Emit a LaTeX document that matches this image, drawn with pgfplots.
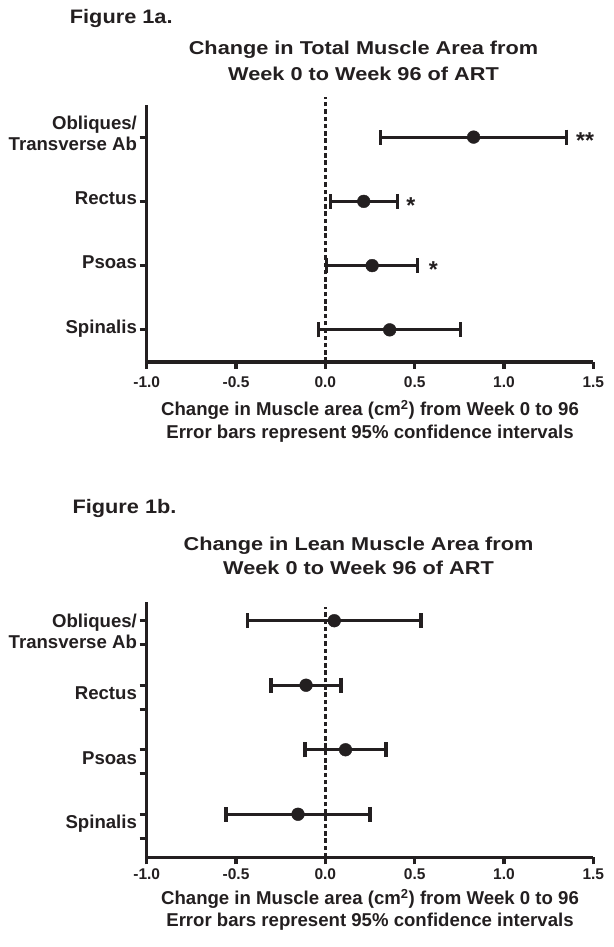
\documentclass[border=0pt]{standalone}
\usepackage{pgfplots}
\usepackage{pgfplotstable}
\pgfplotsset{compat=1.18}
\usepackage{fontspec}
\setmainfont{Liberation Sans}
\usepackage{graphicx}
\definecolor{ink}{RGB}{35,31,32}

\pgfplotstableread{
y m e
4 0.830 0.520
3 0.215 0.187
2 0.262 0.256
1 0.360 0.398
}\toptable
\pgfplotstableread{
y m e
4 0.050 0.485
3 -0.108 0.196
2 0.113 0.227
1 -0.153 0.403
}\bottable

\newcommand{\labfont}{\fontsize{18.6bp}{21.4bp}\selectfont\bfseries}
\newcommand{\titfont}{\fontsize{18.6bp}{22bp}\selectfont\bfseries}
\newcommand{\figfont}{\fontsize{19.5bp}{22bp}\selectfont\bfseries}
\newcommand{\starfont}{\fontsize{23bp}{23bp}\selectfont\bfseries}

\pgfplotsset{
 forestaxis/.style={
  scale only axis, width=446.6bp,
  xmin=-1, xmax=1.5,
  axis lines=left,
  axis line style={line width=3.2bp, -, ink},
  every tick/.style={line width=3.2bp, ink},
  major tick length=7bp,
  tick align=outside,
  xtick={-1,-0.5,0,0.5,1,1.5},
  xticklabels={-1.0,-0.5,0.0,0.5,1.0,1.5},
  xticklabel style={font=\fontsize{15.5bp}{18bp}\selectfont\bfseries, anchor=base, text=ink},
  ytick={1,2,3,4},
  yticklabel style={font=\labfont, anchor=base east, inner sep=0pt, text=ink, xshift=-2.6bp},
  clip=false,
 },
 ci/.style={ink, line width=3.2bp, only marks, mark=*, mark size=6.4bp,
   mark options={solid, fill=ink, draw=ink, line width=0.4bp},
   error bars/.cd, x dir=both, x explicit, error mark=|,
   error bar style={line width=3.2bp, ink},
   error mark options={line width=3.2bp, mark size=7.5bp, ink}},
 zeroline/.style={ink, line width=2.6bp, dash pattern=on 4.5bp off 2.8bp, forget plot},
}

\begin{document}
\begin{tikzpicture}[x=1bp, y=1bp]
\useasboundingbox (0,0) rectangle (614,947);

% ---------- Figure 1a ----------
\node[anchor=base west, inner sep=0pt, text=ink, font=\figfont] at (69.7,923) {\scalebox{1.115}[1]{Figure 1a.}};
\node[anchor=base, inner sep=0pt, text=ink, font=\titfont] at (363.5,892) {\scalebox{1.167}[1]{Change in Total Muscle Area from}};
\node[anchor=base, inner sep=0pt, text=ink, font=\titfont] at (363.5,866.6) {\scalebox{1.167}[1]{Week 0 to Week 96 of ART}};

\begin{axis}[forestaxis,
  at={(146.7bp,585bp)}, anchor=south west,
  height=257bp, ymin=0.5, ymax=4.5,
  xticklabel style={yshift=-19bp},
  yticklabel style={yshift=-3.2bp},
  yticklabels={Spinalis, Psoas, Rectus, {\raisebox{-10.5bp}{\begin{tabular}[b]{@{}r@{}}Obliques/\\Transverse Ab\end{tabular}}}},
]
\addplot[zeroline] coordinates {(0,0.5) (0,4.625)};
\addplot[ci] table[x=m, y=y, x error=e] {\toptable};
\node[anchor=base west, inner sep=0pt, text=ink, font=\starfont, xshift=9.5bp, yshift=-11.8bp] at (axis cs:1.35,4) {**};
\node[anchor=base west, inner sep=0pt, text=ink, font=\starfont, xshift=9bp, yshift=-11.8bp] at (axis cs:0.402,3) {*};
\node[anchor=base west, inner sep=0pt, text=ink, font=\starfont, xshift=10.7bp, yshift=-11.8bp] at (axis cs:0.518,2) {*};
\end{axis}

\node[anchor=base, inner sep=0pt, text=ink, font=\labfont] at (370,531.6) {Change in Muscle area (cm\textsuperscript{2}) from Week 0 to 96};
\node[anchor=base, inner sep=0pt, text=ink, font=\labfont] at (370,508.6) {Error bars represent 95\% confidence intervals};

% ---------- Figure 1b ----------
\node[anchor=base west, inner sep=0pt, text=ink, font=\figfont] at (72.4,433.7) {\scalebox{1.115}[1]{Figure 1b.}};
\node[anchor=base, inner sep=0pt, text=ink, font=\titfont] at (358.5,396.6) {\scalebox{1.167}[1]{Change in Lean Muscle Area from}};
\node[anchor=base, inner sep=0pt, text=ink, font=\titfont] at (358.5,372.6) {\scalebox{1.167}[1]{Week 0 to Week 96 of ART}};

\begin{axis}[forestaxis,
  at={(146.7bp,89.5bp)}, anchor=south west,
  height=255.8bp, ymin=0.33, ymax=4.295,
  xticklabel style={yshift=-15.5bp},
  yticklabel style={yshift=-14.7bp},
  yticklabels={Spinalis, Psoas, Rectus, {\raisebox{-13bp}{\begin{tabular}[b]{@{}r@{}}Obliques/\\Transverse Ab\end{tabular}}}},
  extra y ticks={0.627,1.627,2.627,3.627},
  extra y tick labels={},
]
\addplot[zeroline] coordinates {(0,0.33) (0,4.217)};
\addplot[ci] table[x=m, y=y, x error=e] {\bottable};
\end{axis}

\node[anchor=base, inner sep=0pt, text=ink, font=\labfont] at (370,42) {Change in Muscle area (cm\textsuperscript{2}) from Week 0 to 96};
\node[anchor=base, inner sep=0pt, text=ink, font=\labfont] at (370,20.3) {Error bars represent 95\% confidence intervals};
\end{tikzpicture}
\end{document}
